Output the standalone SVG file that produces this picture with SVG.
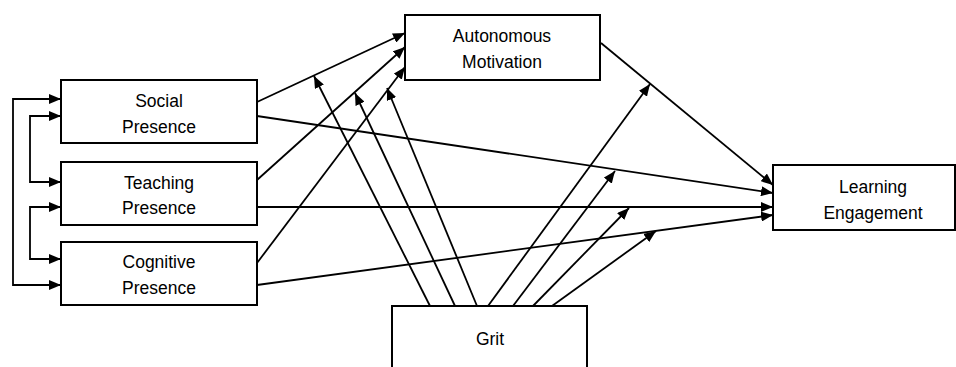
<svg xmlns="http://www.w3.org/2000/svg" width="956" height="367" viewBox="0 0 956 367">
<style>
.box{fill:#fff;stroke:#000;stroke-width:2}
.lbl{font-family:"Liberation Sans",Arial,sans-serif;font-size:17.5px;fill:#000;text-anchor:middle}
.c{fill:none;stroke:#000;stroke-width:1.8}
.a{marker-end:url(#ah)}
.b{marker-start:url(#ah);marker-end:url(#ah)}
</style>
<defs>
<marker id="ah" markerUnits="userSpaceOnUse" markerWidth="13" markerHeight="10" refX="12" refY="5" orient="auto-start-reverse">
<path d="M0,0 L12,5 L0,10 z" fill="#000"/>
</marker>
</defs>
<rect width="956" height="367" fill="#fff"/>
<g id="connectors">
<polyline class="c b" points="61,99 13,99 13,285 61,285"/>
<polyline class="c b" points="61,116 30,116 30,182 61,182"/>
<polyline class="c b" points="61,207 30,207 30,259 61,259"/>
<line class="c a" x1="257" y1="102" x2="405" y2="33"/>
<line class="c a" x1="257" y1="180" x2="405" y2="47"/>
<line class="c a" x1="257" y1="263" x2="405" y2="67"/>
<line class="c a" x1="257" y1="116" x2="773" y2="193"/>
<line class="c a" x1="257" y1="207" x2="773" y2="207"/>
<line class="c a" x1="257" y1="285" x2="773" y2="215"/>
<line class="c a" x1="601" y1="43" x2="773" y2="185"/>
<line class="c a" x1="430" y1="306" x2="314" y2="76"/>
<line class="c a" x1="455" y1="306" x2="355" y2="93"/>
<line class="c a" x1="477" y1="306" x2="387" y2="88"/>
<line class="c a" x1="488" y1="306" x2="650" y2="84"/>
<line class="c a" x1="513" y1="306" x2="615" y2="171"/>
<line class="c a" x1="533" y1="306" x2="629" y2="208"/>
<line class="c a" x1="552" y1="306" x2="656" y2="231"/>
</g>
<g id="social">
<rect class="box" x="61" y="80" width="196" height="63"/>
<text class="lbl" x="159" y="107">Social</text>
<text class="lbl" x="159" y="133">Presence</text>
</g>
<g id="teaching">
<rect class="box" x="61" y="162" width="196" height="63"/>
<text class="lbl" x="159" y="189">Teaching</text>
<text class="lbl" x="159" y="214">Presence</text>
</g>
<g id="cognitive">
<rect class="box" x="61" y="242" width="196" height="63"/>
<text class="lbl" x="159" y="268">Cognitive</text>
<text class="lbl" x="159" y="294">Presence</text>
</g>
<g id="autonomous">
<rect class="box" x="405" y="15" width="195" height="65"/>
<text class="lbl" x="502" y="42">Autonomous</text>
<text class="lbl" x="502" y="68">Motivation</text>
</g>
<g id="learning">
<rect class="box" x="773" y="165" width="182" height="65"/>
<text class="lbl" x="873" y="193">Learning</text>
<text class="lbl" x="873" y="219">Engagement</text>
</g>
<g id="grit">
<rect class="box" x="392" y="306" width="195" height="70"/>
<text class="lbl" x="490" y="345">Grit</text>
</g>
</svg>
